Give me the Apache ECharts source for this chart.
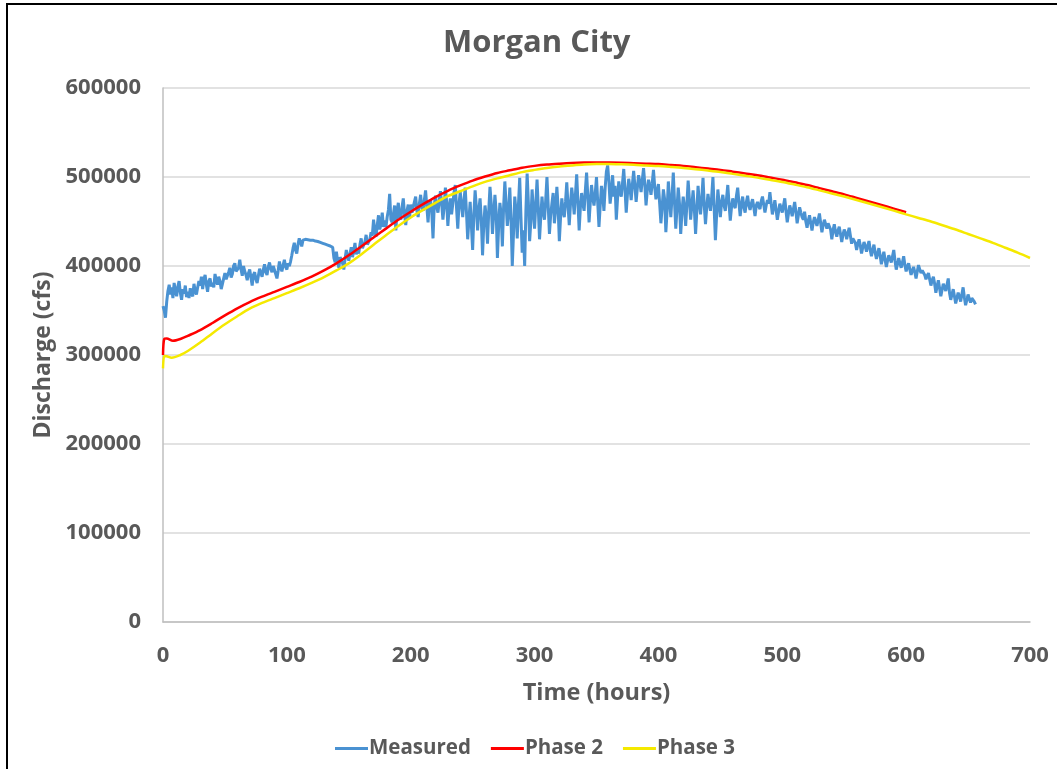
<!DOCTYPE html>
<html>
<head>
<meta charset="utf-8">
<script src="https://cdn.jsdelivr.net/npm/echarts@6/dist/echarts.min.js"></script>
<style>
html,body{margin:0;padding:0;background:#fff;}
#wrap{position:relative;width:1057px;height:769px;overflow:hidden;background:#fff;}
#chart{position:absolute;left:0;top:0;width:1057px;height:769px;}
#frame{position:absolute;left:6px;top:3px;width:1200px;height:900px;border:2px solid #000;pointer-events:none;}
</style>
</head>
<body>
<div id="wrap"><div id="chart"></div><div id="frame"></div></div>
<script>
// ---- data ----
const titleText = 'Morgan City';
const seriesNames = ['Measured', 'Phase 2', 'Phase 3'];
const xTicks = [0, 100, 200, 300, 400, 500, 600, 700];
const yTicks = [0, 100000, 200000, 300000, 400000, 500000, 600000];

// Measured discharge, thousand cfs, one reading per hour starting at hour 0 (10 per row)
const measuredStartHour = 0;
const measuredStepHours = 1;
const measuredKcfs = [
  355, 350, 342, 360, 372, 379, 368, 376, 364, 381,
  372, 366, 377, 383, 370, 362, 374, 369, 378, 365,
  371, 364, 375, 369, 366, 380, 372, 368, 376, 383,
  378, 388, 374, 385, 390, 379, 371, 383, 386, 377,
  381, 376, 391, 384, 379, 388, 383, 374, 380, 386,
  392, 385, 384, 393, 398, 387, 391, 400, 403, 394,
  392, 398, 407, 396, 389, 400, 394, 390, 384, 392,
  396, 387, 378, 390, 393, 385, 381, 389, 397, 392,
  388, 396, 402, 393, 390, 399, 404, 397, 393, 400,
  399, 391, 386, 395, 405, 398, 394, 401, 407, 399,
  396, 403, 400, 405, 412, 420, 426, 418, 414, 424,
  431, 427, 422, 429, 430, 430, 430, 429.5, 429.5, 429,
  429, 429, 428.5, 428, 428, 427.5, 427, 426.5, 426, 425.5,
  425, 424.5, 424, 423.5, 423, 422.5, 422, 421, 409, 404,
  416, 405, 398, 410, 412, 403, 396, 408, 418, 411,
  406, 414, 421, 410, 417, 426, 413, 419, 414, 424,
  431, 420, 418, 427, 435, 424, 423, 430, 438, 434,
  452, 440, 433, 446, 457, 441, 447, 460, 444, 451,
  444, 455, 463, 481, 452, 449, 458, 468, 440, 462,
  471, 455, 452, 466, 476, 458, 446, 462, 469, 453,
  469, 460, 458, 472, 478, 462, 455, 470, 480, 466,
  462, 474, 485, 467, 449, 470, 474, 461, 431, 468,
  479, 466, 460, 473, 484, 470, 452, 467, 488, 472,
  445, 466, 476, 458, 470, 483, 491, 465, 442, 470,
  483, 468, 455, 474, 488, 461, 430, 452, 472, 445,
  418, 458, 485, 466, 440, 463, 476, 452, 412, 447,
  468, 455, 425, 462, 489, 470, 436, 458, 480, 461,
  409, 445, 471, 458, 422, 466, 495, 470, 445, 460,
  488, 452, 400, 437, 478, 462, 431, 469, 499, 455,
  415, 440, 400, 462, 504, 471, 428, 450, 486, 463,
  442, 470, 497, 465, 430, 455, 478, 460, 452, 474,
  500, 468, 436, 457, 470, 482, 448, 463, 489, 466,
  428, 455, 476, 461, 455, 472, 494, 468, 446, 470,
  488, 475, 458, 480, 503, 472, 440, 466, 482, 470,
  462, 485, 505, 478, 449, 472, 491, 476, 468, 482,
  500, 471, 444, 468, 490, 480, 462, 488, 506, 513,
  495, 470, 483, 502, 478, 490, 452, 476, 495, 482,
  478, 493, 509, 486, 460, 481, 498, 488, 474, 492,
  507, 490, 472, 488, 502, 494, 483, 497, 510, 492,
  468, 485, 497, 490, 480, 493, 508, 489, 475, 484,
  492, 470, 448, 466, 486, 475, 438, 462, 495, 474,
  455, 478, 505, 472, 442, 465, 488, 470, 436, 460,
  478, 466, 445, 470, 496, 475, 452, 468, 485, 464,
  436, 462, 490, 471, 458, 476, 499, 468, 447, 466,
  481, 470, 462, 478, 500, 465, 429, 458, 486, 470,
  455, 472, 480, 468, 462, 476, 491, 470, 451, 466,
  476, 468, 465, 479, 488, 471, 456, 469, 478, 466,
  460, 472, 479, 468, 463, 470, 475, 466, 456, 468,
  472, 467, 464, 473, 478, 469, 460, 468, 474, 470,
  483, 470, 458, 466, 474, 463, 452, 461, 470, 465,
  460, 468, 476, 462, 449, 459, 468, 463, 456, 464,
  472, 461, 448, 457, 466, 460, 455, 452, 461, 450,
  443, 451, 457, 448, 440, 449, 455, 450, 445, 452,
  459, 448, 438, 446, 452, 447, 442, 448, 450, 441,
  430, 440, 447, 438, 433, 440, 444, 436, 427, 435,
  441, 437, 430, 437, 443, 434, 425, 431, 433, 426,
  418, 425, 430, 423, 414, 421, 427, 422, 416, 423,
  428, 418, 411, 418, 424, 415, 408, 414, 420, 412,
  402, 409, 416, 407, 399, 406, 412, 408, 404, 411,
  418, 406, 396, 402, 409, 403, 398, 404, 411, 401,
  394, 399, 403, 396, 390, 395, 399, 393, 386, 394,
  401, 396, 392, 395, 397, 390, 385, 389, 392, 385,
  378, 384, 388, 380, 370, 377, 384, 375, 366, 373,
  380, 376, 372, 379, 386, 370, 362, 368, 374, 366,
  358, 364, 370, 366, 360, 368, 376, 365, 356, 362,
  368, 363, 359, 364, 366, 360, 357
];

// Phase 2 model (cfs)
const phase2Hours = [0, 1, 3, 8, 15, 20, 30, 40, 50, 60, 70, 80, 90, 100, 110, 120, 130, 140, 150, 160, 170, 180, 190, 200,
  210, 220, 230, 240, 250, 260, 270, 280, 290, 300, 310, 320, 330, 340, 350, 360, 370, 380, 390, 400,
  410, 420, 430, 440, 450, 460, 470, 480, 490, 500, 510, 520, 530, 540, 550, 560, 570, 580, 590, 600];
const phase2Cfs = [300000, 318000, 318500, 316000, 318500, 321500, 328000, 336000, 344500, 352500, 359500, 365500, 371000, 376500, 382000, 388000, 395000, 403000, 412000, 422000, 432000, 442000, 452000, 461000,
  469500, 477500, 484500, 490500, 496000, 500500, 504500, 507500, 510500, 512500, 514000, 515000, 515800, 516200, 516300, 516200, 516000, 515500, 515000, 514500,
  513500, 512500, 511000, 509500, 508000, 506000, 504000, 502000, 499500, 497000, 494000, 491000, 487500, 484000, 480500, 476500, 472500, 468500, 464500, 460500];

// Phase 3 model (cfs)
const phase3Hours = [0, 1, 3, 7, 14, 20, 30, 40, 50, 60, 70, 80, 90, 100, 110, 120, 130, 140, 150, 160, 170, 180, 190, 200,
  210, 220, 230, 240, 250, 260, 270, 280, 290, 300, 310, 320, 330, 340, 350, 360, 370, 380, 390, 400,
  410, 420, 430, 440, 450, 460, 470, 480, 490, 500, 510, 520, 530, 540, 550, 560, 570, 580, 590, 600,
  610, 620, 630, 640, 650, 660, 670, 680, 690, 700];
const phase3Cfs = [285000, 299000, 298500, 297000, 300000, 304500, 314000, 324500, 334500, 343500, 352000, 358500, 364000, 369500, 375000, 381000, 387500, 395000, 403000, 413000, 424000, 434500, 445000, 454500,
  463000, 471000, 478500, 484000, 489500, 494500, 498500, 502000, 505500, 508000, 510200, 511800, 513000, 514000, 514500, 514600, 514300, 513800, 513000, 512300,
  511300, 510200, 508800, 507200, 505500, 503500, 501500, 499300, 496900, 494400, 491500, 488500, 485000, 481500, 478000, 474200, 470300, 466300, 462200, 458000,
  454000, 450000, 445500, 441000, 436000, 431000, 426000, 420500, 415000, 409000];

const colors = ['#4a92d2', '#ff0000', '#f5e900'];

// ---- chart ----
const measuredData = measuredKcfs.map((v, i) => [measuredStartHour + i * measuredStepHours, v * 1000]);
const p2Data = phase2Hours.map((h, i) => [h, phase2Cfs[i]]);
const p3Data = phase3Hours.map((h, i) => [h, phase3Cfs[i]]);

const FONT = '"Open Sans", "Noto Sans", sans-serif';
const chart = echarts.init(document.getElementById('chart'), null, {renderer: 'canvas'});
chart.setOption({
  animation: false,
  backgroundColor: '#fff',
  title: {
    text: titleText, left: 438, top: 23,
    textStyle: {fontFamily: FONT, fontSize: 31, fontWeight: 'bold', color: '#595959'}
  },
  legend: {
    data: seriesNames, bottom: 5, left: 330, icon: 'rect', itemWidth: 33, itemHeight: 3, itemGap: 20,
    textStyle: {fontFamily: FONT, fontSize: 20.5, fontWeight: 'bold', color: '#595959', padding: [0, 0, 0, -4]}
  },
  grid: {left: 163, right: 27, top: 88, bottom: 147, containLabel: false},
  xAxis: {
    type: 'value', min: xTicks[0], max: xTicks[xTicks.length - 1], interval: 100,
    name: 'Time (hours)', nameLocation: 'middle', nameGap: 59,
    nameTextStyle: {fontFamily: FONT, fontSize: 23.5, fontWeight: 'bold', color: '#595959'},
    axisLine: {show: true, lineStyle: {color: '#bfbfbf', width: 1.5}},
    axisTick: {show: false},
    splitLine: {show: false},
    axisLabel: {fontFamily: FONT, fontSize: 22, fontWeight: 'bold', color: '#595959', margin: 23, formatter: v => String(v)}
  },
  yAxis: {
    type: 'value', min: yTicks[0], max: yTicks[yTicks.length - 1], interval: 100000,
    name: 'Discharge (cfs)', nameLocation: 'middle', nameGap: 105, nameRotate: 90,
    nameTextStyle: {fontFamily: FONT, fontSize: 23, fontWeight: 'bold', color: '#595959'},
    axisLine: {show: true, lineStyle: {color: '#bfbfbf', width: 1.5}},
    axisTick: {show: false},
    splitLine: {show: true, lineStyle: {color: '#d9d9d9', width: 1.5}},
    axisLabel: {fontFamily: FONT, fontSize: 22, fontWeight: 'bold', color: '#595959', margin: 22, formatter: v => String(v)}
  },
  series: [
    {name: seriesNames[0], type: 'line', data: measuredData, symbol: 'none', smooth: false, sampling: null,
     lineStyle: {color: colors[0], width: 3}, itemStyle: {color: colors[0]}},
    {name: seriesNames[1], type: 'line', data: p2Data, symbol: 'none', smooth: 0.3,
     lineStyle: {color: colors[1], width: 2.5}, itemStyle: {color: colors[1]}},
    {name: seriesNames[2], type: 'line', data: p3Data, symbol: 'none', smooth: 0.3,
     lineStyle: {color: colors[2], width: 2.5}, itemStyle: {color: colors[2]}}
  ]
});
</script>
</body>
</html>
